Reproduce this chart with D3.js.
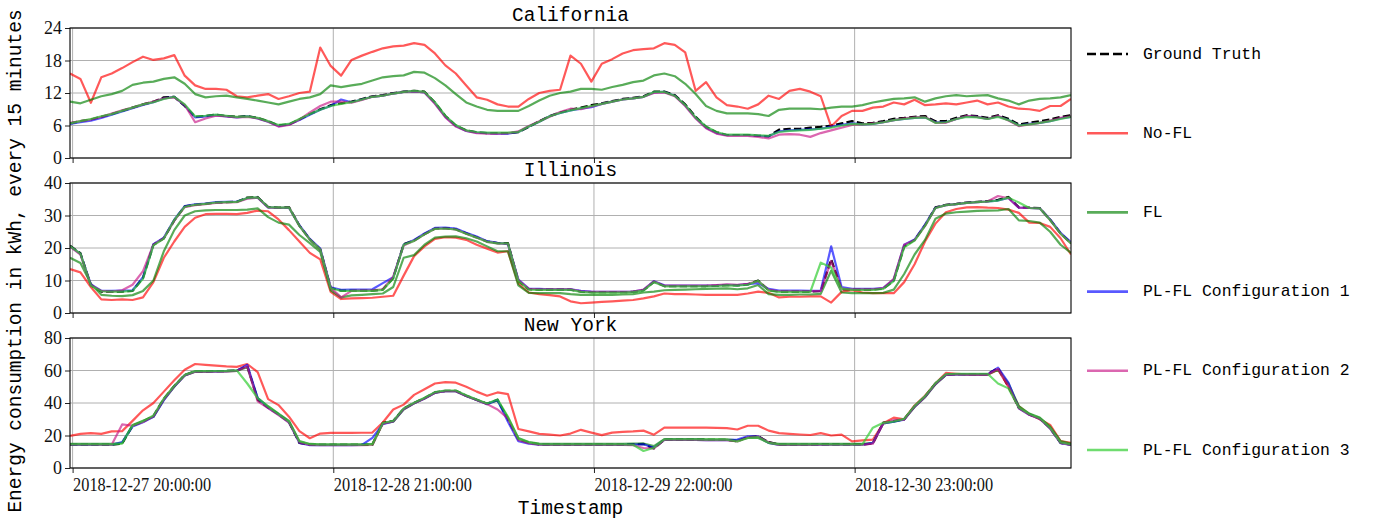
<!DOCTYPE html>
<html><head><meta charset="utf-8">
<script src="https://cdn.jsdelivr.net/npm/d3@7"></script>
<style>body{margin:0;background:#fff}</style>
</head><body><svg id="c" width="1373" height="521"></svg>
<script>
// ---------- DATA ----------
const startTime = "2018-12-27 19:45:00";   // hourly samples
const nPoints = 97;
const tickLabels = ["2018-12-27 20:00:00","2018-12-28 21:00:00","2018-12-29 22:00:00","2018-12-30 23:00:00"];
const seriesNames = ["Ground Truth","No-FL","FL","PL-FL Configuration 1","PL-FL Configuration 2","PL-FL Configuration 3"];
const regionNames = ["California","Illinois","New York"];
const caYTicks = [0,6,12,18,24];
const ilYTicks = [0,10,20,30,40];
const nyYTicks = [0,20,40,60,80];

const caGroundTruth = [6.4,6.8,7.1,7.6,8.1,8.7,9.3,9.9,10.4,11.2,
 11.3,9.6,7.6,7.75,8.0,7.75,7.6,7.75,7.4,6.8,
 6.0,6.2,7.1,8.1,9.0,9.75,10.1,10.4,10.9,11.4,
 11.6,12.0,12.25,12.4,12.25,10.25,7.75,6.0,5.1,4.75,
 4.6,4.6,4.6,4.75,5.75,6.8,7.75,8.4,8.9,9.3,
 9.75,10.1,10.5,10.9,11.1,11.4,12.25,12.25,11.6,9.9,
 7.6,5.75,4.75,4.25,4.25,4.25,4.1,4.0,5.25,5.4,
 5.4,5.6,5.75,6.0,6.4,6.8,6.4,6.5,6.8,7.25,
 7.4,7.6,7.75,6.8,6.8,7.4,7.9,7.75,7.4,7.9,
 7.25,6.2,6.5,6.8,7.1,7.6,7.9];
const caNoFL = [15.6,14.6,10.2,14.9,15.6,16.6,17.7,18.7,18.1,18.4,
 19.0,15.2,13.4,12.75,12.75,12.6,11.4,11.2,11.5,11.8,
 10.9,11.4,12.0,12.25,20.4,17.0,15.2,18.1,18.9,19.6,
 20.25,20.6,20.75,21.2,20.9,19.3,17.1,15.6,13.4,11.2,
 10.75,9.9,9.5,9.5,10.9,12.0,12.4,12.6,18.9,17.4,
 14.1,17.4,18.25,19.3,19.9,20.1,20.25,21.2,20.9,19.5,
 12.4,14.0,11.2,9.75,9.5,9.1,9.9,11.5,10.9,12.4,
 12.75,12.25,11.4,5.8,7.75,8.7,8.7,9.3,9.5,10.25,
 9.9,10.75,9.75,9.9,10.1,9.9,10.25,10.6,9.9,10.25,
 9.5,9.1,9.0,8.7,9.6,9.6,10.9];
const caFL = [10.4,10.1,10.75,11.4,11.8,12.4,13.5,13.9,14.1,14.6,
 14.9,13.7,11.8,11.2,11.4,11.5,11.2,10.9,10.6,10.25,
 9.9,10.4,10.9,11.2,11.8,13.4,13.1,13.4,13.7,14.3,
 14.9,15.1,15.25,15.9,15.75,14.75,13.4,11.8,10.25,9.5,
 8.9,8.7,8.7,8.7,9.6,10.6,11.5,12.0,12.25,12.75,
 12.75,12.6,13.1,13.5,14.0,14.3,15.25,15.6,15.1,13.7,
 11.8,9.6,8.7,8.25,8.25,8.25,8.1,7.75,8.9,9.1,
 9.1,9.1,9.0,9.3,9.5,9.5,9.75,10.25,10.6,10.9,
 11.0,11.2,10.4,11.0,11.4,11.6,11.4,11.5,11.6,11.0,
 10.6,9.9,10.6,10.9,11.0,11.2,11.6];
const caPLFL1 = [6.3,6.6,6.9,7.4,8.0,8.6,9.2,9.8,10.3,11.0,
 11.3,9.7,7.5,7.7,7.9,7.7,7.5,7.7,7.3,6.7,
 5.9,6.2,7.0,8.0,8.9,9.6,10.8,10.3,10.8,11.3,
 11.5,11.9,12.2,12.3,12.1,10.1,7.6,5.9,5.0,4.7,
 4.6,4.5,4.5,4.8,5.8,6.7,7.7,8.3,8.8,9.1,
 9.4,10.0,10.4,10.8,11.0,11.3,12.1,12.2,11.5,9.7,
 7.4,5.6,4.6,4.2,4.2,4.2,4.1,4.0,4.9,5.1,
 5.2,5.3,5.4,5.8,6.1,6.4,6.2,6.3,6.6,7.0,
 7.2,7.4,7.5,6.6,6.6,7.2,7.7,7.6,7.2,7.7,
 7.0,6.0,6.3,6.5,6.8,7.3,7.6];
const caPLFL2 = [6.5,6.8,7.1,7.6,8.2,8.8,9.3,9.9,10.4,11.0,
 11.2,9.8,6.6,7.3,7.8,7.7,7.5,7.6,7.3,6.7,
 5.8,6.1,7.1,8.4,9.6,10.4,10.4,10.2,10.7,11.3,
 11.5,11.9,12.2,12.3,12.1,10.0,7.5,5.8,5.0,4.6,
 4.5,4.5,4.6,4.9,5.9,6.8,7.6,8.5,9.1,9.0,
 9.5,10.0,10.4,10.8,11.0,11.3,12.0,12.1,11.4,9.6,
 7.3,5.5,4.5,4.1,4.1,4.1,3.9,3.6,4.3,4.4,
 4.3,3.9,4.6,5.1,5.6,6.1,6.2,6.4,6.6,7.0,
 7.3,7.5,7.6,6.5,6.5,7.2,7.8,7.6,7.2,7.8,
 6.9,5.9,6.2,6.5,6.9,7.4,7.7];
const caPLFL3 = [6.4,6.8,7.2,7.7,8.1,8.7,9.3,9.9,10.3,10.9,
 11.3,9.9,7.7,7.8,8.0,7.8,7.6,7.7,7.4,6.8,
 6.1,6.3,7.2,8.1,8.9,9.6,10.0,10.3,10.8,11.3,
 11.5,11.9,12.2,12.4,12.2,10.3,7.8,6.1,5.1,4.8,
 4.7,4.7,4.7,4.8,5.8,6.7,7.7,8.3,8.8,9.2,
 9.6,10.0,10.4,10.8,11.0,11.3,12.2,12.2,11.5,9.8,
 7.5,5.8,4.8,4.3,4.3,4.3,4.2,4.1,4.8,5.0,
 5.1,5.2,5.4,5.6,6.0,6.3,6.2,6.3,6.6,7.0,
 7.2,7.4,7.5,6.5,6.6,7.2,7.6,7.5,7.2,7.6,
 7.0,6.0,6.2,6.5,6.8,7.2,7.6];

const ilGroundTruth = [20.7,18.4,8.5,6.6,6.6,6.6,6.8,10.8,21.0,23.0,
 28.5,32.8,33.3,33.6,34.0,34.1,34.2,35.5,35.7,32.6,
 32.4,32.6,26.9,22.7,19.6,7.7,6.9,6.9,6.9,6.9,
 7.2,10.8,21.2,22.3,24.3,26.0,26.1,25.8,24.5,23.3,
 22.0,21.5,21.5,9.8,7.3,7.2,7.2,7.2,7.2,6.6,
 6.4,6.4,6.4,6.4,6.5,7.0,9.6,8.3,8.3,8.3,
 8.3,8.3,8.4,8.6,8.5,8.8,10.0,7.0,6.6,6.6,
 6.6,6.6,6.7,16.5,7.3,7.2,7.2,7.2,7.5,10.0,
 20.5,22.5,27.0,32.5,33.3,33.6,34.0,34.2,34.4,34.8,
 35.7,32.5,32.4,32.3,28.7,24.5,21.5];
const ilNoFL = [13.5,12.5,8.0,4.2,4.0,4.2,4.0,4.8,9.5,17.0,
 22.0,26.5,29.3,30.4,30.5,30.5,30.4,30.8,31.5,31.3,
 28.8,25.5,22.0,18.5,16.5,6.5,4.3,4.5,4.6,4.7,
 5.0,5.3,11.5,17.5,20.5,22.8,23.3,23.2,22.5,21.0,
 19.8,18.6,19.0,9.0,6.3,5.8,5.5,5.1,3.6,3.0,
 3.2,3.4,3.6,3.8,4.0,4.5,5.1,6.0,5.8,5.8,
 5.7,5.6,5.6,5.6,5.6,6.0,6.6,6.2,4.8,5.0,
 5.0,5.1,5.1,3.2,6.5,7.0,6.3,6.1,6.1,6.1,
 9.5,15.0,22.0,27.5,31.0,32.0,32.5,32.6,32.4,32.3,
 31.8,30.8,27.8,27.7,26.5,23.0,18.0];
const ilFL = [17.0,15.4,9.0,5.6,5.3,5.2,5.5,6.8,10.0,19.0,
 25.5,30.0,31.3,31.6,31.7,31.7,31.7,31.8,32.2,29.5,
 27.8,27.2,24.0,21.5,18.8,7.0,4.8,5.4,5.6,5.8,
 6.0,8.0,17.0,17.8,21.0,23.2,23.5,23.6,23.0,22.0,
 20.5,19.0,19.0,8.5,6.2,6.1,6.1,6.1,5.8,5.6,
 5.6,5.6,5.6,5.7,5.8,6.3,6.6,7.0,7.1,7.2,
 7.3,7.4,7.5,7.6,7.3,7.6,8.6,5.8,5.6,5.6,
 5.7,5.7,5.9,13.0,6.3,6.1,6.1,6.1,6.2,7.2,
 12.0,18.0,22.5,29.0,30.6,31.0,31.2,31.4,31.5,31.6,
 32.0,28.5,28.3,27.8,25.0,21.0,18.5];
const ilPLFL1 = [20.5,18.2,8.8,6.9,6.8,6.9,7.0,11.0,21.2,23.2,
 28.7,32.9,33.4,33.7,34.1,34.2,34.3,35.3,35.5,32.5,
 32.3,32.4,27.0,22.8,19.8,7.9,7.1,7.2,7.2,7.3,
 9.2,11.0,21.0,22.5,24.5,26.2,26.3,26.0,24.7,23.5,
 22.1,21.6,21.2,10.3,7.5,7.4,7.3,7.3,7.3,6.8,
 6.6,6.5,6.5,6.5,6.6,7.1,9.8,8.5,8.4,8.4,
 8.4,8.4,8.5,8.7,8.6,8.9,9.2,7.4,6.9,6.9,
 6.9,6.8,6.9,20.5,8.0,7.4,7.4,7.4,7.7,10.3,
 21.0,22.6,27.2,32.4,33.2,33.5,33.9,34.1,34.3,34.6,
 35.4,32.4,32.3,32.2,28.8,24.7,21.8];
const ilPLFL2 = [20.4,18.0,8.6,6.8,6.6,7.0,8.7,12.9,21.0,23.0,
 28.4,32.6,33.2,33.5,33.9,34.0,34.1,35.2,35.5,32.5,
 32.3,32.5,26.8,22.6,19.5,7.8,4.8,6.8,6.9,7.0,
 7.3,11.2,20.8,22.2,24.2,25.9,26.0,25.7,24.4,23.2,
 21.9,21.4,21.3,10.1,7.4,7.3,7.3,7.3,7.3,6.7,
 6.5,6.5,6.5,6.5,6.6,7.2,9.7,8.4,8.4,8.4,
 8.4,8.4,8.6,8.8,8.7,9.0,9.8,7.1,6.7,6.7,
 6.7,6.7,6.8,16.0,7.5,7.3,7.3,7.3,7.7,10.5,
 21.0,22.4,26.8,32.3,33.2,33.5,33.9,34.1,34.3,36.0,
 35.3,32.4,32.3,32.2,28.6,24.4,21.4];
const ilPLFL3 = [20.6,18.3,8.4,6.7,6.6,6.6,6.8,10.5,20.8,22.9,
 28.6,32.7,33.3,33.6,34.0,34.1,34.2,35.4,35.6,32.6,
 32.4,32.5,26.8,22.6,19.5,7.6,6.8,6.8,6.8,6.8,
 7.1,10.6,21.0,22.2,24.2,25.9,26.0,25.7,24.4,23.2,
 21.9,21.4,21.4,9.8,7.2,7.1,7.1,7.1,7.1,6.5,
 6.3,6.3,6.3,6.3,6.4,6.9,9.5,8.2,8.2,8.2,
 8.2,8.2,8.3,8.5,8.4,8.7,9.9,6.9,6.5,6.5,
 6.5,6.5,15.5,14.0,7.5,7.1,7.1,7.1,7.4,9.8,
 20.2,22.3,26.8,32.3,33.2,33.5,33.9,34.1,34.3,34.6,
 35.5,34.0,32.3,32.2,28.6,24.4,21.4];

const nyGroundTruth = [14.4,14.4,14.4,14.4,14.4,15.0,26.0,28.5,32.0,42.6,
 50.5,57.2,59.5,59.5,59.6,59.7,60.0,62.8,42.0,37.2,
 33.0,28.3,15.4,14.4,14.2,14.2,14.2,14.2,14.2,14.3,
 27.9,28.9,36.5,40.0,43.0,46.5,47.5,47.5,44.5,42.0,
 39.5,42.0,30.0,17.5,15.5,14.5,14.4,14.4,14.4,14.4,
 14.4,14.4,14.4,14.4,14.6,14.8,12.0,17.5,17.5,17.5,
 17.5,17.4,17.4,17.3,16.5,19.0,19.5,16.0,14.4,14.4,
 14.4,14.4,14.5,14.5,14.5,14.5,14.5,15.0,28.0,28.8,
 30.0,38.0,44.0,52.0,57.5,57.8,57.8,57.8,57.8,61.5,
 50.0,37.0,33.0,30.5,24.5,15.5,14.4];
const nyNoFL = [19.8,21.0,21.5,21.0,22.5,22.7,29.0,35.5,40.0,47.0,
 54.0,60.5,64.0,63.5,63.0,62.5,62.2,64.0,59.0,42.4,
 38.7,31.6,22.7,18.3,21.2,21.6,21.6,21.6,21.7,21.8,
 28.0,36.0,39.0,45.0,48.5,52.0,52.8,52.5,50.0,47.0,
 44.5,46.5,45.5,24.0,22.5,21.0,20.5,20.0,21.2,23.5,
 21.8,20.2,21.8,22.2,22.5,23.0,20.5,24.8,24.8,24.8,
 24.8,24.8,24.7,24.5,23.7,26.0,26.0,23.0,21.5,21.0,
 20.6,20.3,21.5,20.0,20.5,16.4,17.0,17.5,27.5,31.0,
 30.0,38.5,44.5,52.0,58.5,58.0,57.6,57.4,57.4,60.5,
 50.0,38.0,33.0,30.0,26.5,16.5,15.4];
const nyFL = [14.8,14.8,14.8,14.8,14.8,15.3,26.5,29.0,31.5,42.0,
 50.0,57.0,59.3,59.3,59.4,59.5,59.8,62.0,43.0,38.0,
 33.5,29.0,16.5,14.8,14.6,14.6,14.6,14.6,14.6,14.8,
 27.5,28.5,36.0,39.8,42.8,46.3,47.3,47.3,44.3,41.8,
 39.5,41.5,31.0,18.5,16.0,15.0,14.8,14.8,14.8,14.8,
 14.8,14.8,14.8,14.8,15.0,15.0,13.5,17.8,17.8,17.8,
 17.8,17.7,17.7,17.6,17.0,18.5,18.5,15.5,14.8,14.8,
 14.8,14.8,14.8,14.8,14.8,14.8,14.8,15.5,27.5,28.5,
 30.0,37.5,43.5,51.5,57.3,57.6,57.6,57.6,57.6,60.5,
 52.0,38.0,33.5,31.0,25.5,16.5,15.0];
const nyPLFL1 = [14.2,14.2,14.2,14.3,14.3,16.0,25.5,28.2,31.5,41.8,
 50.2,57.0,59.4,59.4,59.5,59.6,59.9,63.5,43.0,37.0,
 32.8,28.1,15.5,14.0,14.0,14.0,14.0,14.1,14.2,18.5,
 27.0,28.7,36.3,39.8,42.8,46.3,47.3,47.3,44.3,41.8,
 39.3,41.8,28.5,16.5,15.0,14.3,14.2,14.2,14.2,14.2,
 14.2,14.2,14.2,14.2,14.4,14.6,12.5,17.3,17.3,17.3,
 17.3,17.2,17.2,17.1,17.5,19.5,19.5,15.5,14.2,14.2,
 14.2,14.2,14.3,14.3,14.3,14.3,14.3,15.5,27.5,28.5,
 29.8,37.8,43.8,51.8,57.3,57.6,57.6,57.6,57.6,61.8,
 52.5,36.8,32.8,30.3,24.3,15.3,14.2];
const nyPLFL2 = [14.3,14.3,14.3,14.3,14.3,26.8,26.0,28.3,31.8,42.3,
 50.3,57.0,59.3,59.3,59.4,59.5,59.8,62.5,41.0,36.8,
 32.5,28.0,15.8,14.2,14.0,14.0,14.0,14.1,14.1,14.2,
 27.3,28.7,36.3,39.8,42.8,46.3,47.3,47.3,44.3,41.8,
 39.3,36.0,30.5,17.3,15.3,14.3,14.2,14.2,14.2,14.2,
 14.2,14.2,14.2,14.2,14.0,12.3,12.0,17.3,17.3,17.3,
 17.3,17.2,17.2,17.1,16.3,18.8,19.3,15.8,14.2,14.2,
 14.2,14.2,14.3,14.3,14.3,14.3,14.3,15.0,27.5,29.5,
 29.8,37.8,43.8,51.8,57.3,57.6,57.6,57.6,57.6,61.0,
 50.5,36.8,32.8,30.3,24.3,15.5,14.2];
const nyPLFL3 = [14.5,14.5,14.5,14.5,14.5,15.2,26.2,28.8,32.3,42.8,
 50.6,57.3,59.6,59.6,59.7,59.8,60.1,52.0,43.0,37.8,
 33.2,28.6,16.3,14.6,14.3,14.3,14.3,14.3,14.3,14.5,
 27.7,29.0,36.7,40.2,43.2,46.7,47.7,47.7,44.7,42.2,
 39.7,42.2,31.5,18.0,15.8,14.7,14.5,14.5,14.5,14.5,
 14.5,14.5,14.5,14.5,14.3,10.5,12.5,17.6,17.6,17.6,
 17.6,17.5,17.5,17.4,16.3,18.5,19.0,15.5,14.5,14.5,
 14.5,14.5,14.6,14.6,14.6,14.6,14.6,24.8,27.8,28.6,
 30.2,38.2,44.2,52.2,57.7,58.0,58.0,58.0,58.0,52.0,
 49.0,37.2,33.2,30.7,24.7,15.7,14.5];

// ---------- STYLE ----------
const seriesColors = ["#000000","#ff0000","#008000","#0000ff","#c71585","#32cd32"];
const seriesOpacity = [1,0.65,0.65,0.65,0.65,0.7];
const MONO = "'Liberation Mono', 'DejaVu Sans Mono', monospace";
const SERIF = "'Liberation Serif', 'DejaVu Serif', serif";

const panels = [
  {name: regionNames[0], ticks: caYTicks, series: [caGroundTruth,caNoFL,caFL,caPLFL1,caPLFL2,caPLFL3], top: 28},
  {name: regionNames[1], ticks: ilYTicks, series: [ilGroundTruth,ilNoFL,ilFL,ilPLFL1,ilPLFL2,ilPLFL3], top: 183},
  {name: regionNames[2], ticks: nyYTicks, series: [nyGroundTruth,nyNoFL,nyFL,nyPLFL1,nyPLFL2,nyPLFL3], top: 338}
];
const panelH = 130, left = 70, right = 1071;

const parse = d3.timeParse("%Y-%m-%d %H:%M:%S");
const t0 = parse(startTime);
const times = d3.range(nPoints).map(k => d3.timeHour.offset(t0, k));
const tickDates = tickLabels.map(parse);

const x = d3.scaleTime().domain([times[0], times[times.length-1]]).range([left, right]);

const svg = d3.select("#c");
svg.append("rect").attr("width",1373).attr("height",521).attr("fill","#fff");

panels.forEach((p, pi) => {
  const y = d3.scaleLinear().domain([0, d3.max(p.ticks)]).range([p.top + panelH, p.top]);
  const g = svg.append("g");
  const clipId = "clip" + pi;
  svg.append("clipPath").attr("id", clipId).append("rect")
    .attr("x", left).attr("y", p.top).attr("width", right-left).attr("height", panelH);

  // grid
  g.selectAll(".hg").data(p.ticks).enter().append("line")
    .attr("x1", left).attr("x2", right).attr("y1", d => y(d)).attr("y2", d => y(d))
    .attr("stroke","#b0b0b0").attr("stroke-width",1);
  g.selectAll(".vg").data(tickDates).enter().append("line")
    .attr("x1", d => x(d)).attr("x2", d => x(d)).attr("y1", p.top).attr("y2", p.top+panelH)
    .attr("stroke","#b0b0b0").attr("stroke-width",1);

  // lines
  const line = d3.line().x((d,i) => x(times[i])).y(d => y(d));
  const lg = g.append("g").attr("clip-path", `url(#${clipId})`);
  p.series.forEach((s, si) => {
    lg.append("path").datum(s).attr("d", line)
      .attr("fill","none").attr("stroke", seriesColors[si])
      .attr("stroke-opacity", seriesOpacity[si])
      .attr("stroke-width", 2.2)
      .attr("stroke-linejoin","round")
      .attr("stroke-dasharray", si === 0 ? "7.4,3.2" : null);
  });

  // axes
  const ya = d3.axisLeft(y).tickValues(p.ticks).tickSize(5).tickPadding(3);
  const yg = g.append("g").attr("transform", `translate(${left},0)`).call(ya);
  yg.select(".domain").remove();
  yg.selectAll("text").attr("font-family", SERIF).attr("font-size", 18).attr("fill","#111");
  yg.selectAll("line").attr("stroke","#222");

  const xa = d3.axisBottom(x).tickValues(tickDates).tickSize(5).tickFormat((d,i) => pi === 2 ? tickLabels[i] : "");
  const xg = g.append("g").attr("transform", `translate(0,${p.top+panelH})`).call(xa);
  xg.select(".domain").remove();
  xg.selectAll("line").attr("stroke","#222");
  xg.selectAll("text").attr("font-family", SERIF).attr("font-size", 18).attr("fill","#111")
    .attr("text-anchor","start").attr("dy","0.85em").attr("dx", 0)
    .attr("textLength", 138).attr("lengthAdjust","spacingAndGlyphs");

  // frame
  g.append("rect").attr("x", left).attr("y", p.top).attr("width", right-left).attr("height", panelH)
    .attr("fill","none").attr("stroke","#000").attr("stroke-width",1.1);

  // title
  svg.append("text").attr("x", (left+right)/2).attr("y", p.top - 7)
    .attr("text-anchor","middle").attr("font-family", MONO).attr("font-size", 19.5)
    .attr("fill","#000").text(p.name);
});

// axis labels
svg.append("text").attr("x", (left+right)/2).attr("y", 514).attr("text-anchor","middle")
  .attr("font-family", MONO).attr("font-size", 19.5).attr("fill","#000").text("Timestamp");
svg.append("text").attr("transform","translate(16,261) rotate(-90)")
  .attr("text-anchor","middle").attr("dominant-baseline","central")
  .attr("font-family", MONO).attr("font-size", 19.5).attr("fill","#000")
  .text("Energy consumption in kWh, every 15 minutes");

// legend
const legendY = d3.scalePoint().domain(seriesNames).range([54, 450]);
const lgd = svg.append("g");
seriesNames.forEach((n, i) => {
  lgd.append("line").attr("x1",1087).attr("x2",1128).attr("y1",legendY(n)).attr("y2",legendY(n))
    .attr("stroke", seriesColors[i]).attr("stroke-opacity", seriesOpacity[i]).attr("stroke-width",2.6)
    .attr("stroke-dasharray", i === 0 ? "9,4" : null);
  lgd.append("text").attr("x",1143).attr("y",legendY(n)).attr("dominant-baseline","central")
    .attr("font-family", MONO).attr("font-size", 16.4).attr("fill","#000").text(n);
});
</script>
</body></html>
